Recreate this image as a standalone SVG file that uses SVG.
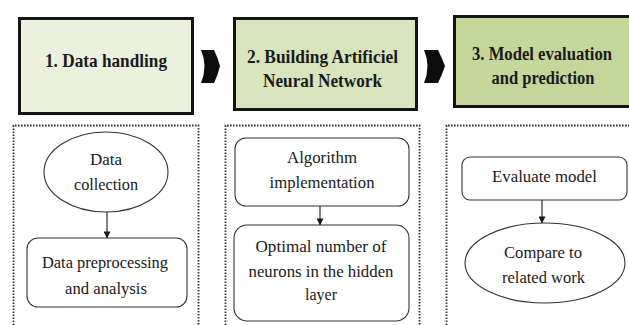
<svg xmlns="http://www.w3.org/2000/svg" width="629" height="325" viewBox="0 0 629 325">
  <defs>
    <marker id="arrow" viewBox="0 0 8 8" refX="7.5" refY="4" markerWidth="7" markerHeight="7" markerUnits="userSpaceOnUse" orient="auto">
      <path d="M0,0 L8,4 L0,8 Z" fill="#1a1a1a"/>
    </marker>
    <style>
      .stage { stroke: #151515; stroke-width: 3; }
      .edge { fill: none; stroke: #151515; stroke-width: 3; }
      .s1 { fill: #ebf1de; }
      .s2 { fill: #d8e4bc; }
      .s3 { fill: #c4d79b; }
      .head { font-weight: bold; font-size: 18.5px; fill: #1a1a1a; text-anchor: middle; }
      .panel { fill: none; stroke: #333; stroke-width: 1.8; stroke-dasharray: 1.6 1.4; }
      .node { fill: #ffffff; stroke: #333; stroke-width: 1.1; }
      .label { font-size: 17px; fill: #1a1a1a; text-anchor: middle; }
      .chev { fill: #0d0d0d; }
      .link { stroke: #1a1a1a; stroke-width: 1.1; fill: none; marker-end: url(#arrow); }
    </style>
  </defs>
  <rect width="629" height="325" fill="#ffffff"/>

  <g font-family="Liberation Serif, Times New Roman, serif">
  <!-- stage headers -->
  <g id="stage1">
    <rect class="stage s1" x="19.5" y="18.5" width="173" height="95"/>
    <text class="head" x="106" y="67" textLength="122" lengthAdjust="spacingAndGlyphs">1. Data handling</text>
  </g>
  <g id="stage2">
    <rect class="stage s2" x="234.5" y="18.5" width="182" height="91"/>
    <text class="head" x="322.5" y="63" textLength="151" lengthAdjust="spacingAndGlyphs">2. Building Artificiel</text>
    <text class="head" x="322.5" y="87" textLength="119" lengthAdjust="spacingAndGlyphs">Neural Network</text>
  </g>
  <g id="stage3">
    <!-- runs off the right edge: fill up to the edge, border on three sides -->
    <rect class="s3" x="454.5" y="16.5" width="174.5" height="90"/>
    <path class="edge" d="M629,16.5 H454.5 V106.5 H629"/>
    <text class="head" x="542" y="60" font-size="16.5" textLength="140" lengthAdjust="spacingAndGlyphs">3. Model evaluation</text>
    <text class="head" x="543" y="84" textLength="103" lengthAdjust="spacingAndGlyphs">and prediction</text>
  </g>

  <!-- chevrons between stages -->
  <g id="chevron1">
    <path class="chev" d="M201,50 L214,50 Q218,58 220,66 Q218,75 214,83 L201,83 Q208,66 201,50 Z"/>
  </g>
  <g id="chevron2">
    <path class="chev" d="M424,50 L438,50 Q442,58 445,66 Q442,75 438,83 L424,83 Q431,66 424,50 Z"/>
  </g>

  <!-- dotted panels, open at the bottom edge -->
  <g id="panel1"><path class="panel" d="M13.5,325 V125.5 H198.5 V325"/></g>
  <g id="panel2"><path class="panel" d="M225.5,325 V125.5 H419.5 V325"/></g>
  <g id="panel3"><path class="panel" d="M446.5,325 V125.5 H629"/></g>

  <!-- panel 1 nodes -->
  <g id="data-collection">
    <ellipse class="node" cx="106" cy="172" rx="62" ry="40"/>
    <text class="label" x="106" y="165">Data</text>
    <text class="label" x="106" y="190" textLength="64" lengthAdjust="spacingAndGlyphs">collection</text>
  </g>
  <g id="data-preprocessing">
    <rect class="node" x="27" y="238" width="160" height="69" rx="11"/>
    <text class="label" x="105" y="268" textLength="126" lengthAdjust="spacingAndGlyphs">Data preprocessing</text>
    <text class="label" x="106" y="294" textLength="82" lengthAdjust="spacingAndGlyphs">and analysis</text>
  </g>

  <!-- panel 2 nodes -->
  <g id="algorithm">
    <rect class="node" x="235" y="138" width="174" height="68" rx="11"/>
    <text class="label" x="322" y="163" textLength="70" lengthAdjust="spacingAndGlyphs">Algorithm</text>
    <text class="label" x="322" y="188" textLength="105" lengthAdjust="spacingAndGlyphs">implementation</text>
  </g>
  <g id="optimal-neurons">
    <rect class="node" x="234" y="225" width="175" height="96" rx="13"/>
    <text class="label" x="321" y="252" textLength="131" lengthAdjust="spacingAndGlyphs">Optimal number of</text>
    <text class="label" x="321" y="277" textLength="145" lengthAdjust="spacingAndGlyphs">neurons in the hidden</text>
    <text class="label" x="321" y="300" textLength="32" lengthAdjust="spacingAndGlyphs">layer</text>
  </g>

  <!-- panel 3 nodes -->
  <g id="evaluate-model">
    <rect class="node" x="462" y="157" width="165" height="43" rx="8"/>
    <text class="label" x="544.5" y="182" textLength="105" lengthAdjust="spacingAndGlyphs">Evaluate model</text>
  </g>
  <g id="compare-work">
    <ellipse class="node" cx="545" cy="263" rx="80" ry="40"/>
    <text class="label" x="543" y="258" textLength="78" lengthAdjust="spacingAndGlyphs">Compare to</text>
    <text class="label" x="543.5" y="283" textLength="83" lengthAdjust="spacingAndGlyphs">related work</text>
  </g>

  <!-- connectors -->
  <g id="connectors">
    <line class="link" x1="107" y1="212" x2="107" y2="238"/>
    <line class="link" x1="320" y1="206" x2="320" y2="225"/>
    <line class="link" x1="542" y1="200" x2="542" y2="223"/>
  </g>
  </g>
</svg>
